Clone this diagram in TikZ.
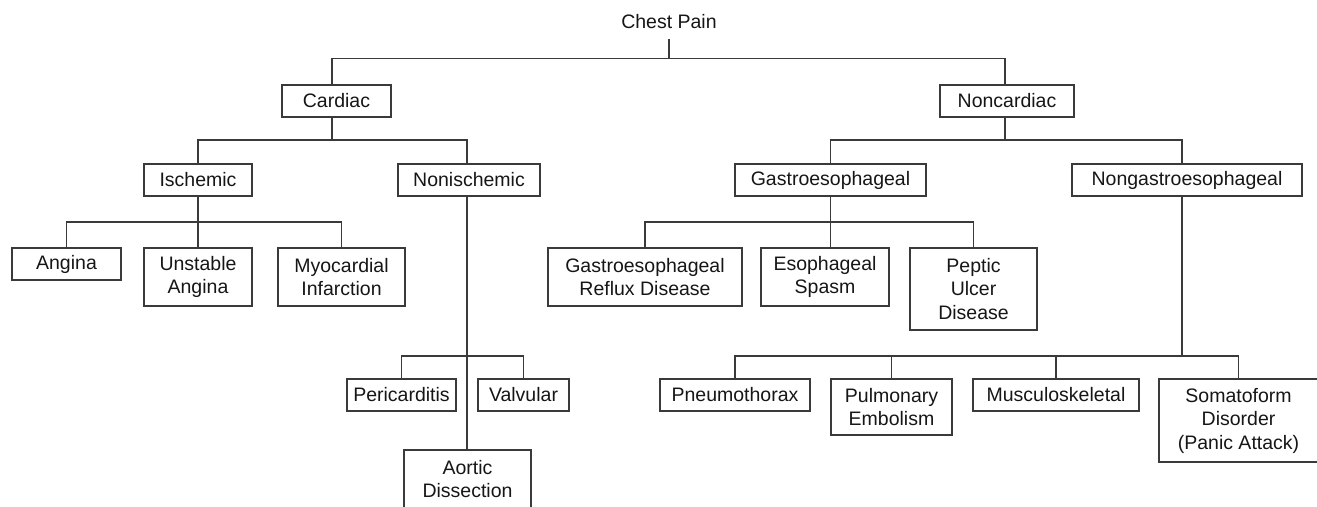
\documentclass[tikz,border=0pt]{standalone}
\usepackage{fontspec}
\setmainfont{Liberation Sans}
\definecolor{linegray}{HTML}{3A3A3A}
\definecolor{textgray}{HTML}{161616}
\tikzset{
  box/.style={draw=linegray, rectangle, inner sep=0pt, outer sep=0pt, align=center,
    text=textgray, font=\fontsize{19.5}{23.5}\selectfont},
  wire/.style={draw=linegray, line width=1.1pt}
}
\begin{document}
\begin{tikzpicture}[x=1pt,y=-1pt,line width=1.1pt]

\fill[white] (0,0) rectangle (1317,506);
\useasboundingbox (0,0) rectangle (1317,506);

% root
\node[text=textgray, font=\fontsize{19.5}{23.5}\selectfont, inner sep=10.5pt, anchor=base] (chest) at (669,28) {Chest Pain};

% first level
\node[box, minimum width=109pt, minimum height=32pt] (cardiac) at (336.5,101) {Cardiac};
\node[box, minimum width=134pt, minimum height=32pt] (noncard) at (1007,101) {Noncardiac};

% second level
\node[box, minimum width=108pt, minimum height=32pt] (isch) at (198,180) {Ischemic};
\node[box, minimum width=142pt, minimum height=32pt] (nonisch) at (469,180) {Nonischemic};
\node[box, minimum width=191pt, minimum height=32pt] (gastro) at (830.5,180) {Gastroesophageal};
\node[box, minimum width=230pt, minimum height=32pt] (nongastro) at (1187,180) {Nongastroesophageal};

% ischemic
\node[box, minimum width=109pt, minimum height=32pt] (angina) at (66.5,264) {Angina};
\node[box, minimum width=108pt, minimum height=58pt] (unstable) at (198,277) {Unstable\\Angina};
\node[box, minimum width=127pt, minimum height=58pt] (mi) at (341.5,277) {Myocardial\\Infarction};

% nonischemic
\node[box, minimum width=109pt, minimum height=32pt] (peri) at (401.5,395) {Pericarditis};
\node[box, minimum width=91pt, minimum height=32pt] (valv) at (523.5,395) {Valvular};
\node[box, minimum width=127pt, minimum height=58pt] (aortic) at (467.5,479) {Aortic\\Dissection};

% gastroesophageal
\node[box, minimum width=194pt, minimum height=58pt] (gerd) at (645,277) {Gastroesophageal\\Reflux Disease};
\node[box, minimum width=128pt, minimum height=58pt] (spasm) at (825,277) {Esophageal\\Spasm};
\node[box, minimum width=127pt, minimum height=82pt] (pud) at (973.5,289) {Peptic\\Ulcer\\Disease};

% nongastroesophageal
\node[box, minimum width=150pt, minimum height=32pt] (pneumo) at (735,395) {Pneumothorax};
\node[box, minimum width=121pt, minimum height=56pt] (pe) at (891.5,407) {Pulmonary\\Embolism};
\node[box, minimum width=166pt, minimum height=32pt] (musc) at (1056,395) {Musculoskeletal};
\node[box, minimum width=159pt, minimum height=83pt] (somato) at (1238.5,420.5) {Somatoform\\Disorder\\(Panic Attack)};

% drop points (the lines sit a little left of some box centres)
\coordinate (cardtop) at ([xshift=-4.5pt]cardiac.north);
\coordinate (cardbot) at ([xshift=-4.5pt]cardiac.south);
\coordinate (nctop) at ([xshift=-2pt]noncard.north);
\coordinate (ncbot) at ([xshift=-2pt]noncard.south);
\coordinate (nitop) at ([xshift=-2pt]nonisch.north);
\coordinate (nibot) at ([xshift=-2pt]nonisch.south);
\coordinate (ngtop) at ([xshift=-5pt]nongastro.north);
\coordinate (ngbot) at ([xshift=-5pt]nongastro.south);

% connectors
\draw[wire] (chest.south) -- ++(0,19) coordinate (topbus);
\draw[wire] (cardtop) |- (topbus) -| (nctop);

\draw[wire] (cardbot) -- ++(0,23) coordinate (cardbus);
\draw[wire] (isch.north) |- (cardbus) -| (nitop);

\draw[wire] (ncbot) -- (ncbot |- cardbus);
\draw[wire] (gastro.north) |- (ncbot |- cardbus) -| (ngtop);

\draw[wire] (isch.south) -- (isch.south |- unstable.north);
\draw[wire] (angina.north) |- (isch.south |- 0,222) -| (mi.north);

\draw[wire] (nibot) -- (nibot |- aortic.north);
\draw[wire] (peri.north) |- (nibot |- 0,356) -| (valv.north);

\draw[wire] (gastro.south) -- (gastro.south |- spasm.north);
\draw[wire] (gerd.north) |- (gastro.south |- 0,222) -| (pud.north);

\draw[wire] (ngbot) -- (ngbot |- 0,356);
\draw[wire] (pneumo.north) |- (ngbot |- 0,356) -| (somato.north);
\draw[wire] (pe.north) -- (pe.north |- 0,356);
\draw[wire] (musc.north) -- (musc.north |- 0,356);

\end{tikzpicture}
\end{document}
